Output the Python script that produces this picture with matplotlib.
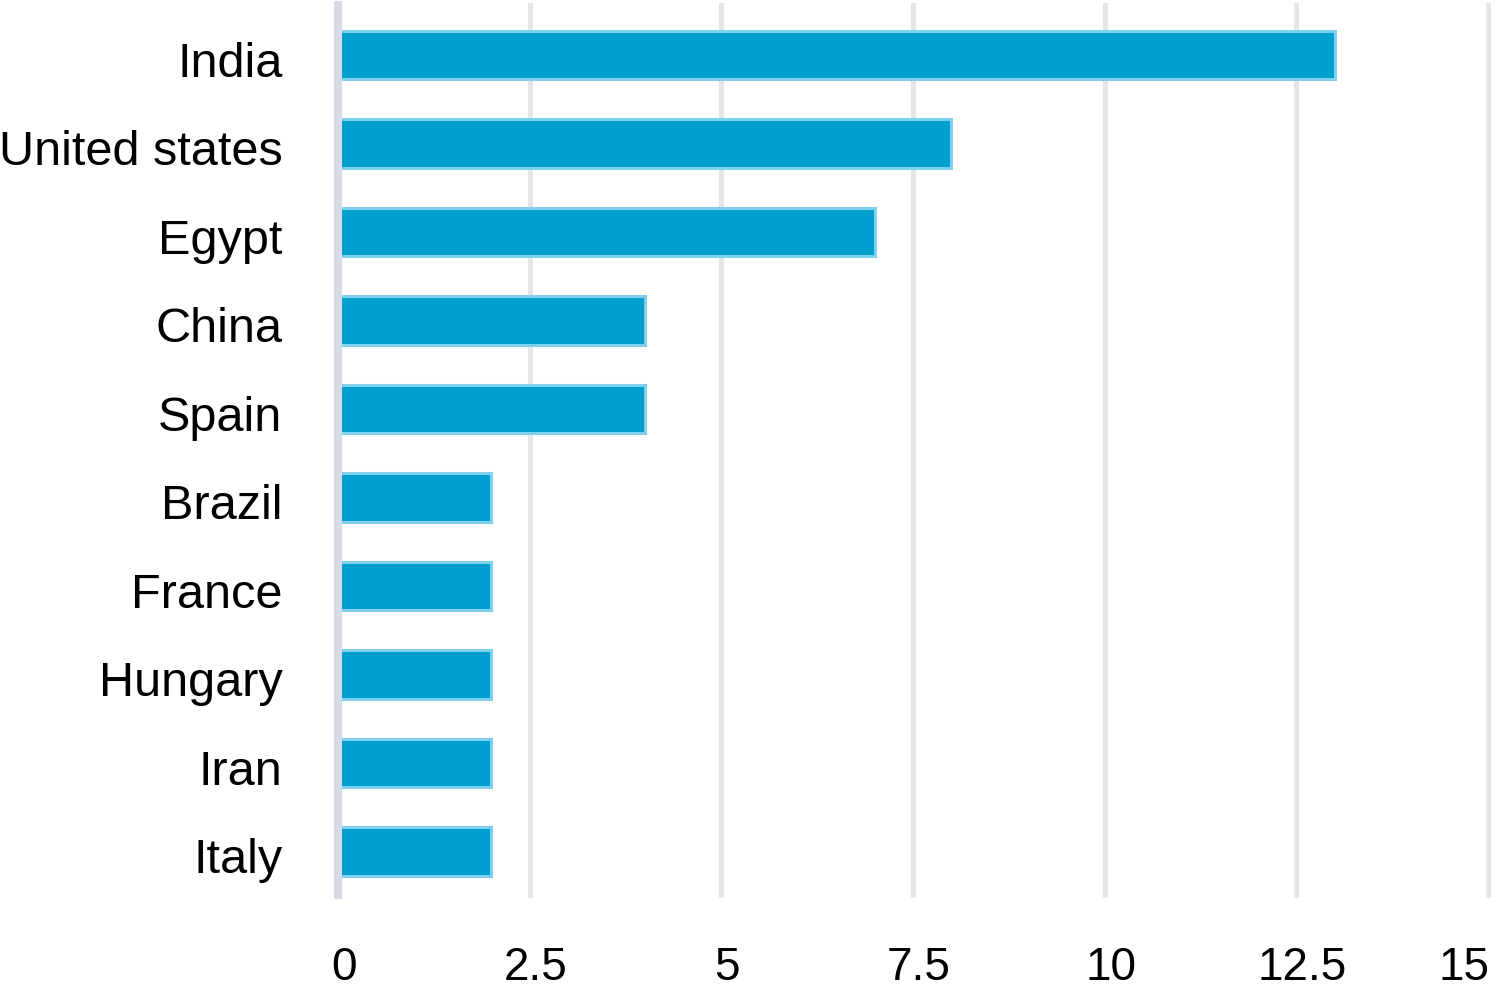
import numpy as np
import matplotlib.pyplot as plt
import matplotlib.transforms as mtrans

plt.rcParams['font.family'] = ['Liberation Sans', 'DejaVu Sans']

countries = ["India", "United states", "Egypt", "China", "Spain",
             "Brazil", "France", "Hungary", "Iran", "Italy"]
values = [13, 8, 7, 4, 4, 2, 2, 2, 2, 2]
xticks = [0, 2.5, 5, 7.5, 10, 12.5, 15]
xtick_labels = ["0", "2.5", "5", "7.5", "10", "12.5", "15"]

fig = plt.figure(figsize=(14.97, 9.92), dpi=100)
ax = fig.add_axes([338 / 1497, 97 / 992, 1150 / 1497, 890 / 992])

y = np.arange(len(countries))
ax.barh(y, values, height=0.55, color="#009fcf", edgecolor="#7fd0ee",
        linewidth=2.2, zorder=2)

# gridlines
for t in xticks[1:]:
    ax.axvline(t, color="#e6e6e6", lw=3.6, zorder=1, clip_on=False)
ax.axvline(0, color="#d6dbe6", lw=5.8, zorder=3, clip_on=False)

ax.set_xlim(0, 15)
ax.set_ylim(9.49, -0.565)
ax.set_yticks(y, countries)
ax.tick_params(axis="y", length=0, pad=40, labelsize=35)
down = mtrans.ScaledTranslation(0, -4 / 100, fig.dpi_scale_trans)
for lab in ax.get_yticklabels():
    lab.set_transform(lab.get_transform() + down)
ax.set_xticks([])
for s in ax.spines.values():
    s.set_visible(False)

# x tick labels, slightly shifted right like the original
trans = mtrans.blended_transform_factory(ax.transData, ax.transAxes)
for i, (t, lab) in enumerate(zip(xticks, xtick_labels)):
    if i == len(xticks) - 1:
        off = mtrans.ScaledTranslation(2 / 100, 0, fig.dpi_scale_trans)
        ax.text(t, -0.082, lab, transform=trans + off, ha="right", va="center",
                fontsize=33)
    else:
        off = mtrans.ScaledTranslation(6 / 100, 0, fig.dpi_scale_trans)
        ax.text(t, -0.082, lab, transform=trans + off, ha="center", va="center",
                fontsize=33)

fig.savefig("out.png", dpi=100)
